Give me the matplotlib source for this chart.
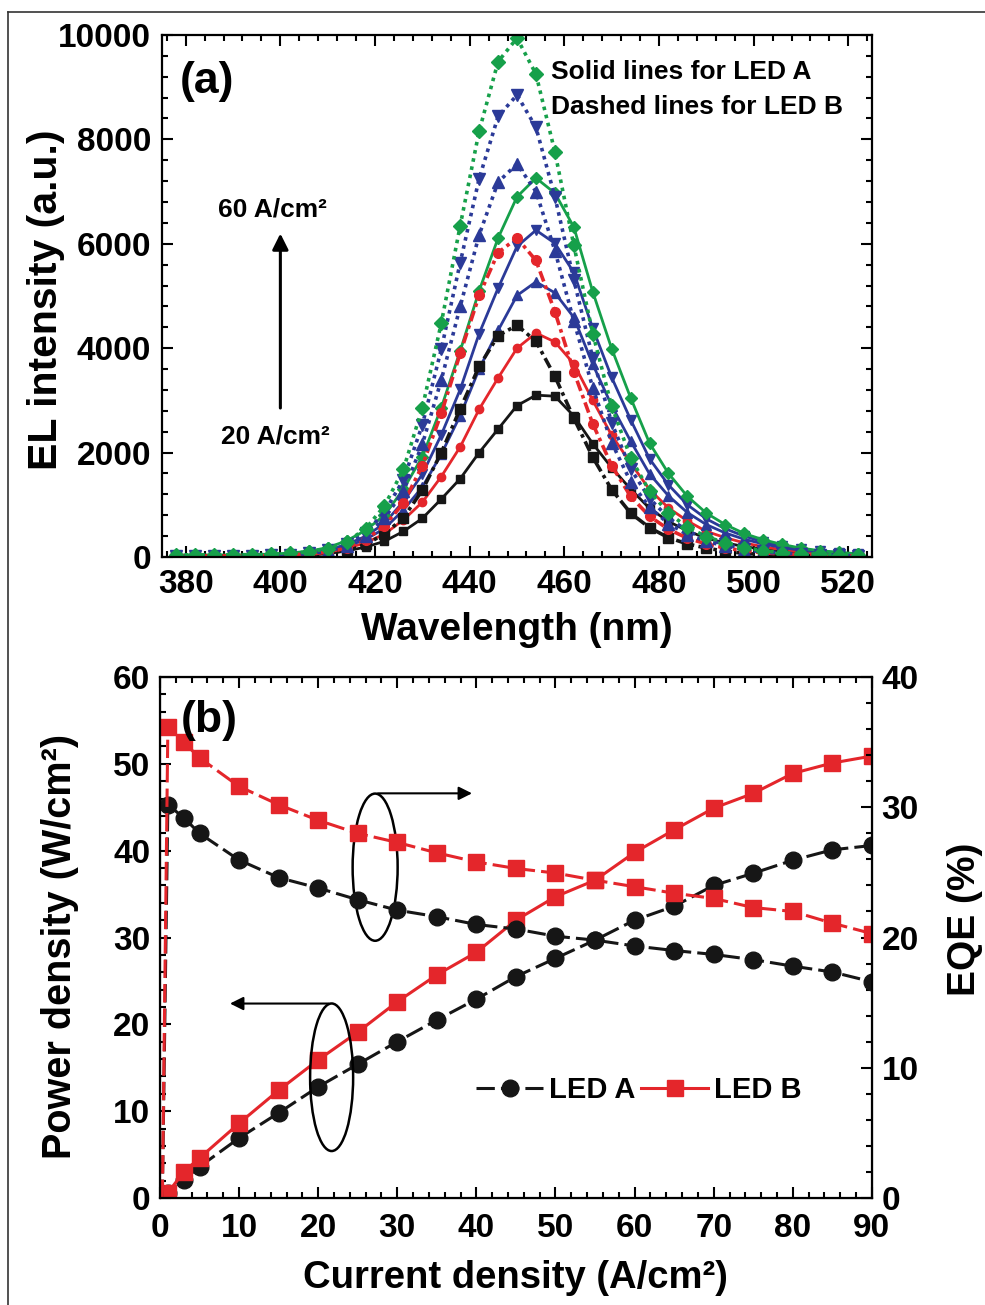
import matplotlib.pyplot as plt
from matplotlib.patches import Ellipse
from matplotlib.lines import Line2D
from matplotlib.ticker import MultipleLocator

plt.rcParams['font.family'] = ['Liberation Sans', 'DejaVu Sans']
plt.rcParams['font.weight'] = 'bold'
plt.rcParams['axes.labelweight'] = 'bold'

# ---- (a) EL spectra, every 4 nm ----
wavelength = [378, 382, 386, 390, 394, 398, 402, 406, 410, 414, 418, 422, 426,
              430, 434, 438, 442, 446, 450, 454, 458, 462, 466, 470, 474, 478,
              482, 486, 490, 494, 498, 502, 506, 510, 514, 518, 522]

# LED A (solid lines)
a_20 = [15, 15, 15, 15, 17, 20, 27, 40, 65, 115, 190, 300, 490, 740, 1110, 1500,
        2000, 2450, 2900, 3100, 3080, 2700, 2170, 1710, 1300, 930, 680, 500, 360,
        270, 200, 145, 105, 75, 55, 40, 30]
a_30 = [15, 15, 15, 15, 17, 25, 32, 55, 90, 165, 270, 440, 710, 1050, 1540, 2110,
        2830, 3430, 4000, 4290, 4120, 3700, 3000, 2330, 1800, 1290, 940, 690, 490,
        370, 270, 195, 140, 95, 65, 45, 30]
a_40 = [20, 20, 20, 20, 23, 30, 40, 65, 115, 205, 335, 545, 900, 1340, 1970, 2710,
        3600, 4340, 5010, 5270, 5060, 4590, 3690, 2900, 2220, 1590, 1170, 850, 620,
        460, 340, 250, 180, 130, 95, 70, 50]
a_50 = [20, 20, 20, 20, 23, 33, 45, 75, 135, 240, 395, 645, 1065, 1585, 2340, 3210,
        4280, 5150, 5950, 6260, 6010, 5450, 4380, 3440, 2630, 1880, 1380, 1000, 730,
        540, 400, 290, 210, 150, 110, 80, 55]
a_60 = [40, 40, 40, 40, 45, 55, 75, 110, 180, 310, 510, 800, 1300, 1920, 2860, 3950,
        5100, 6110, 6900, 7260, 6970, 6320, 5080, 3990, 3050, 2180, 1600, 1160, 840,
        620, 450, 330, 240, 170, 120, 90, 60]

# LED B (dashed lines)
b_20 = [20, 20, 20, 20, 20, 25, 35, 45, 75, 130, 240, 440, 750, 1280, 2000, 2840,
        3650, 4240, 4440, 4130, 3460, 2660, 1910, 1290, 840, 560, 370, 250, 170,
        110, 70, 45, 30, 20, 20, 20, 20]
b_30 = [20, 20, 20, 20, 25, 25, 40, 55, 90, 170, 330, 600, 1030, 1750, 2750, 3900,
        5010, 5830, 6110, 5680, 4700, 3550, 2550, 1750, 1160, 780, 530, 360, 250,
        170, 120, 80, 55, 45, 30, 25, 20]
b_40 = [20, 20, 20, 20, 25, 30, 45, 65, 110, 210, 400, 740, 1260, 2160, 3390, 4800,
        6170, 7180, 7530, 7000, 5870, 4520, 3240, 2190, 1440, 950, 640, 430, 300,
        210, 140, 95, 65, 50, 35, 30, 20]
b_50 = [20, 20, 20, 20, 25, 30, 45, 75, 125, 240, 460, 860, 1480, 2530, 3980, 5640,
        7250, 8440, 8850, 8230, 6900, 5310, 3810, 2570, 1690, 1120, 750, 500, 340,
        240, 160, 110, 75, 55, 40, 30, 20]
b_60 = [40, 40, 40, 40, 45, 50, 70, 100, 160, 290, 540, 980, 1680, 2860, 4480, 6350,
        8160, 9490, 9940, 9250, 7760, 5970, 4280, 2890, 1900, 1260, 840, 570, 390,
        270, 180, 120, 80, 65, 55, 45, 40]

# ---- (b) power density / EQE vs current density ----
current = [0.3, 1, 3, 5, 10, 15, 20, 25, 30, 35, 40, 45, 50, 55, 60, 65, 70, 75, 80, 85, 90]
power_a = [0, 0.6, 2.1, 3.6, 6.9, 9.8, 12.8, 15.4, 18.0, 20.5, 22.9, 25.5, 27.6,
           29.7, 32.0, 33.6, 36.0, 37.4, 38.9, 40.1, 40.6]
power_b = [0, 0.6, 3.0, 4.6, 8.6, 12.4, 15.9, 19.1, 22.6, 25.7, 28.3, 32.0, 34.7,
           36.6, 39.8, 42.4, 44.9, 46.6, 48.9, 50.1, 50.9]
eqe_a = [0, 30.2, 29.2, 28.0, 25.95, 24.6, 23.8, 22.9, 22.1, 21.6, 21.0, 20.65,
         20.1, 19.8, 19.35, 19.0, 18.7, 18.3, 17.8, 17.35, 16.6]
eqe_b = [0, 36.2, 35.0, 33.8, 31.6, 30.2, 29.0, 28.0, 27.3, 26.5, 25.8, 25.3,
         24.95, 24.4, 23.9, 23.4, 23.0, 22.3, 22.0, 21.1, 20.3]

BLACK = '#161616'
RED = '#e4262b'
BLUE = '#2b3a98'
GREEN = '#16a04a'

fig = plt.figure(figsize=(9.85, 13.05), dpi=100)

# thin frame around the figure (top and left edges visible in the scan)
fig.add_artist(Line2D([0.008, 1.0], [0.9908, 0.9908], color='#333333', lw=1.2))
fig.add_artist(Line2D([0.008, 0.008], [0.0, 0.9908], color='#333333', lw=1.2))

# ---------------- panel (a) ----------------
ax = fig.add_axes([0.1645, 0.5732, 0.7208, 0.4])

solid = [(a_20, BLACK, 's', 5.5), (a_30, RED, 'o', 6), (a_40, BLUE, '^', 7),
         (a_50, BLUE, 'v', 7), (a_60, GREEN, 'D', 6)]
dashed = [(b_20, BLACK, 's', 6.5, (0, (3, 1.2, 1, 1.2))),
          (b_30, RED, 'o', 7, (0, (3, 1.2, 1, 1.2))),
          (b_40, BLUE, '^', 8.5, (0, (1, 1.3))),
          (b_50, BLUE, 'v', 8.5, (0, (1, 1.3))),
          (b_60, GREEN, 'D', 7.5, (0, (1, 1.3)))]

for y, c, m, ms in solid:
    ax.plot(wavelength, y, color=c, lw=2.0, marker=m, ms=ms, mec=c, mfc=c)
for y, c, m, ms, ls in dashed:
    ax.plot(wavelength, y, color=c, lw=2.6, ls=ls, marker=m, ms=ms, mec=c, mfc=c)

ax.set_xlim(375, 525)
ax.set_ylim(0, 10000)
ax.xaxis.set_major_locator(MultipleLocator(20))
ax.xaxis.set_minor_locator(MultipleLocator(4))
ax.yaxis.set_major_locator(MultipleLocator(2000))
ax.yaxis.set_minor_locator(MultipleLocator(400))
ax.tick_params(which='both', direction='in', top=True, right=True, width=1.5,
               labelsize=24)
ax.tick_params(which='major', length=8)
ax.tick_params(which='minor', length=4)
ax.tick_params(axis='y', pad=8)
ax.tick_params(axis='x', pad=9)
for s in ax.spines.values():
    s.set_linewidth(1.6)

ax.set_xlabel('Wavelength (nm)', fontsize=28)
ax.set_ylabel('EL intensity (a.u.)', fontsize=29.5)
ax.xaxis.label.set_va('center')
ax.yaxis.label.set_va('center')
ax.xaxis.set_label_coords(0.5, -0.14)
ax.yaxis.set_label_coords(-0.163, 0.492)

ax.text(0.063, 0.91, '(a)', transform=ax.transAxes, fontsize=32,
        ha='center', va='center')
ax.text(0.548, 0.929, 'Solid lines for LED A', transform=ax.transAxes,
        fontsize=19, ha='left', va='center')
ax.text(0.548, 0.862, 'Dashed lines for LED B', transform=ax.transAxes,
        fontsize=19, ha='left', va='center')
ax.annotate('', xy=(400, 6250), xytext=(400, 2800),
            arrowprops=dict(arrowstyle='-|>', lw=2.2, color='k', mutation_scale=24))
ax.text(398.3, 6650, '60 A/cm²', fontsize=19, ha='center', va='center')
ax.text(398.9, 2300, '20 A/cm²', fontsize=19, ha='center', va='center')

# ---------------- panel (b) ----------------
bx = fig.add_axes([0.1624, 0.082, 0.7228, 0.3992])
ex = bx.twinx()

dash = (0, (6, 2))
la, = bx.plot(current, power_a, color=BLACK, lw=2.2, ls=dash, marker='o', ms=12,
              label='LED A')
lb, = bx.plot(current, power_b, color=RED, lw=2.2, marker='s', ms=11,
              label='LED B')
ex.plot(current, eqe_a, color=BLACK, lw=2.2, ls=dash, marker='o', ms=12,
        markevery=list(range(1, len(current))))
ex.plot(current, eqe_b, color=RED, lw=2.2, ls=dash, marker='s', ms=11,
        markevery=list(range(1, len(current))))

bx.set_xlim(0, 90)
bx.set_ylim(0, 60)
ex.set_ylim(0, 40)
bx.xaxis.set_major_locator(MultipleLocator(10))
bx.xaxis.set_minor_locator(MultipleLocator(2))
bx.yaxis.set_major_locator(MultipleLocator(10))
bx.yaxis.set_minor_locator(MultipleLocator(2))
ex.yaxis.set_major_locator(MultipleLocator(10))
ex.yaxis.set_minor_locator(MultipleLocator(2))
bx.tick_params(which='both', direction='in', top=True, right=False, width=1.5,
               labelsize=24)
ex.tick_params(which='both', direction='in', width=1.5, labelsize=24, pad=7)
for a in (bx, ex):
    a.tick_params(which='major', length=8)
    a.tick_params(which='minor', length=4)
bx.tick_params(axis='y', pad=7)
bx.tick_params(axis='x', pad=11)
for s in ex.spines.values():
    s.set_linewidth(1.6)

bx.set_xlabel('Current density (A/cm²)', fontsize=27.5)
bx.set_ylabel('Power density (W/cm²)', fontsize=28.5)
ex.set_ylabel('EQE (%)', fontsize=28)
for lab in (bx.xaxis.label, bx.yaxis.label, ex.yaxis.label):
    lab.set_va('center')
bx.xaxis.set_label_coords(0.4986, -0.1536)
bx.yaxis.set_label_coords(-0.1404, 0.482)
ex.yaxis.set_label_coords(1.1306, 0.534)

ex.text(0.069, 0.917, '(b)', transform=bx.transAxes, fontsize=32,
        ha='center', va='center')

# ellipses with arrows pointing to the relevant axis
ex.add_patch(Ellipse((27.2, 25.4), 5.69, 11.3, fill=False, lw=1.8, color='k'))
ex.annotate('', xy=(39.8, 31.07), xytext=(27.2, 31.07),
            arrowprops=dict(arrowstyle='-|>', lw=1.5, color='k', mutation_scale=20))
ex.add_patch(Ellipse((21.7, 9.27), 5.44, 11.33, fill=False, lw=1.8, color='k'))
ex.annotate('', xy=(8.5, 14.93), xytext=(21.7, 14.93),
            arrowprops=dict(arrowstyle='-|>', lw=1.5, color='k', mutation_scale=20))

ex.legend(handles=[la, lb], loc='center', bbox_to_anchor=(0.673, 0.207),
          ncol=2, frameon=False, fontsize=21, handlelength=2.3,
          handletextpad=0.2, columnspacing=0.2)

fig.savefig('out.png', dpi=100)
